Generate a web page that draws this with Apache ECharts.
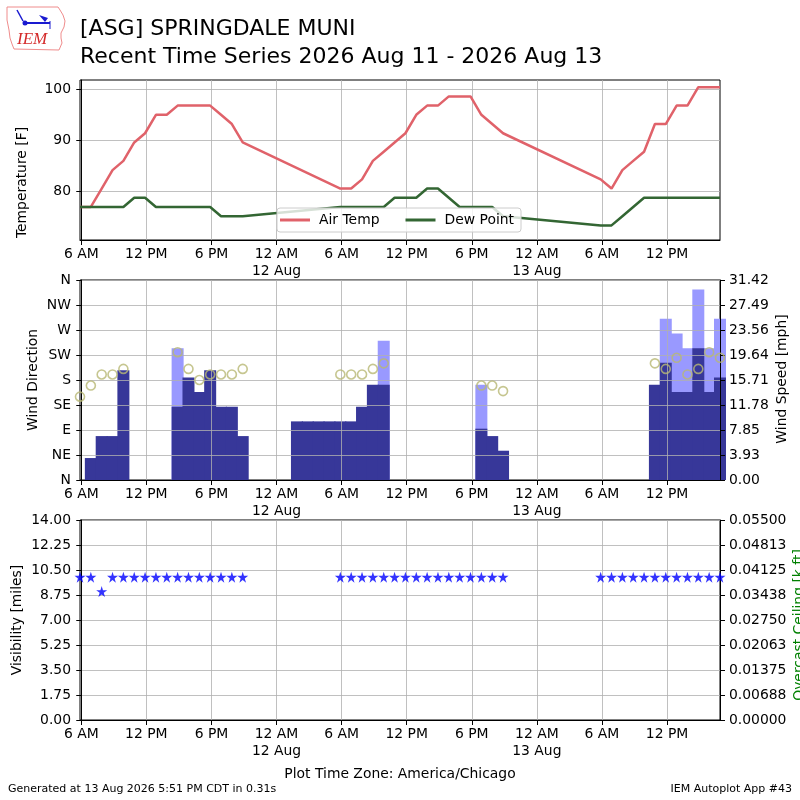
<!DOCTYPE html>
<html>
<head>
<meta charset="utf-8">
<title>ASG Recent Time Series</title>
<script src="https://cdn.jsdelivr.net/npm/echarts@6.0.0/dist/echarts.min.js"></script>
<style>
  html, body { margin: 0; padding: 0; background: #fff; }
  #chart { width: 800px; height: 800px; }
</style>
</head>
<body>
<div id="chart"></div>
<script>
// hourly obs, local time (America/Chicago)
var obsTime = [
  '2026-08-11 05:53', '2026-08-11 06:53', '2026-08-11 07:53', '2026-08-11 08:53', '2026-08-11 09:53',
  '2026-08-11 10:53', '2026-08-11 11:53', '2026-08-11 12:53', '2026-08-11 13:53', '2026-08-11 14:53',
  '2026-08-11 15:53', '2026-08-11 16:53', '2026-08-11 17:53', '2026-08-11 18:53', '2026-08-11 19:53',
  '2026-08-11 20:53', '2026-08-11 21:53', '2026-08-11 22:53', '2026-08-11 23:53',
  '2026-08-12 00:53', '2026-08-12 01:53', '2026-08-12 02:53', '2026-08-12 03:53', '2026-08-12 04:53',
  '2026-08-12 05:53', '2026-08-12 06:53', '2026-08-12 07:53', '2026-08-12 08:53', '2026-08-12 09:53',
  '2026-08-12 10:53', '2026-08-12 11:53', '2026-08-12 12:53', '2026-08-12 13:53', '2026-08-12 14:53',
  '2026-08-12 15:53', '2026-08-12 16:53', '2026-08-12 17:53', '2026-08-12 18:53', '2026-08-12 19:53',
  '2026-08-12 20:53', '2026-08-12 21:53', '2026-08-12 22:53', '2026-08-12 23:53',
  '2026-08-13 00:53', '2026-08-13 01:53', '2026-08-13 02:53', '2026-08-13 03:53', '2026-08-13 04:53',
  '2026-08-13 05:53', '2026-08-13 06:53', '2026-08-13 07:53', '2026-08-13 08:53', '2026-08-13 09:53',
  '2026-08-13 10:53', '2026-08-13 11:53', '2026-08-13 12:53', '2026-08-13 13:53', '2026-08-13 14:53',
  '2026-08-13 15:53', '2026-08-13 16:53'
]

var tempF = [
  77, 77, 80.6, 84.2, 86, 89.6, 91.4, 95, 95, 96.8, 96.8, 96.8, 96.8, 95, 93.2, 89.6,
  null, null, null, null, null, null, null, null,
  80.6, 80.6, 82.4, 86, 87.8, 89.6, 91.4, 95, 96.8, 96.8, 98.6, 98.6, 98.6, 95, 93.2, 91.4,
  null, null, null, null, null, null, null, null,
  82.4, 80.6, 84.2, 86, 87.8, 93.2, 93.2, 96.8, 96.8, 100.4, 100.4, 100.4
]

var dewF = [
  77, 77, 77, 77, 77, 78.8, 78.8, 77, 77, 77, 77, 77, 77, 75.2, 75.2, 75.2,
  null, null, null, null, null, null, null, null,
  77, 77, 77, 77, 77, 78.8, 78.8, 78.8, 80.6, 80.6, 78.8, 77, 77, 77, 77, 75.2,
  null, null, null, null, null, null, null, null,
  73.4, 73.4, 75.2, 77, 78.8, 78.8, 78.8, 78.8, 78.8, 78.8, 78.8, 78.8
]

// mph
var windSpeed = [
  null, 3.45, 6.9, 6.9, 17.26, null, null, null, null, 11.51, 16.11, 13.81, 17.26, 11.51, 11.51, 6.9,
  null, null, null, null, 9.21, 9.21, 9.21, 9.21,
  9.21, 9.21, 11.51, 14.96, 14.96, null, null, null, null, null, null, null, null, 8.06, 6.9, 4.6,
  null, null, null, null, null, null, null, null,
  null, null, null, null, null, 14.96, 18.41, 13.81, 13.81, 20.71, 13.81, 16.11
]

var windGust = [
  null, null, null, null, null, null, null, null, null, 20.71, null, null, null, null, null, null,
  null, null, null, null, null, null, null, null,
  null, null, null, null, 21.86, null, null, null, null, null, null, null, null, 14.96, null, null,
  null, null, null, null, null, null, null, null,
  null, null, null, null, null, null, 25.32, 23.02, 20.71, 29.92, 20.71, 25.32
]

var windDir = [
  150, 170, 190, 190, 200, null, null, null, null, 230, 200, 180, 190, 190, 190, 200,
  null, null, null, null, null, null, null, null,
  190, 190, 190, 200, 210, null, null, null, null, null, null, null, null, 170, 170, 160,
  null, null, null, null, null, null, null, null,
  null, null, null, null, null, 210, 200, 220, 190, 200, 230, 220
]

var visibility = [
  10, 10, 9, 10, 10, 10, 10, 10, 10, 10, 10, 10, 10, 10, 10, 10,
  null, null, null, null, null, null, null, null,
  10, 10, 10, 10, 10, 10, 10, 10, 10, 10, 10, 10, 10, 10, 10, 10,
  null, null, null, null, null, null, null, null,
  10, 10, 10, 10, 10, 10, 10, 10, 10, 10, 10, 10
]

// x axis: hours after 2026-08-11 06:00
var xTickHours = [0, 6, 12, 18, 24, 30, 36, 42, 48, 54]
var xTickLabels = ['6 AM', '12 PM', '6 PM', '12 AM\n12 Aug', '6 AM', '12 PM', '6 PM', '12 AM\n13 Aug', '6 AM', '12 PM']
var dirLabels = ['N', 'NE', 'E', 'SE', 'S', 'SW', 'W', 'NW', 'N']
var speedLabels = ['0.00', '3.93', '7.85', '11.78', '15.71', '19.64', '23.56', '27.49', '31.42']
var ceilLabels = ['0.00000', '0.00688', '0.01375', '0.02063', '0.02750', '0.03438', '0.04125', '0.04813', '0.05500']

var FONT = 'DejaVu Sans'
var GRID_COLOR = '#b0b0b0'
var GUST_COLOR = '#9999ff'
var SPEED_COLOR = '#373799'

function hoursOf (s) {
  var m = s.match(/(\d+)-(\d+)-(\d+) (\d+):(\d+)/)
  var t = Date.UTC(+m[1], +m[2] - 1, +m[3], +m[4], +m[5])
  return (t - Date.UTC(2026, 7, 11, 6, 0)) / 3600000
}

var obsHours = obsTime.map(hoursOf)

function pairs (values) {
  var out = []
  values.forEach(function (v, i) {
    if (v !== null) out.push([obsHours[i], v])
  })
  return out
}

var xMin = obsHours[0]
var xMax = obsHours[obsHours.length - 1]

function xAxisFor (idx, z) {
  return {
    type: 'value', gridIndex: idx, min: xMin, max: xMax, z: z,
    axisLine: { lineStyle: { color: '#000', width: 1 } },
    axisTick: { customValues: xTickHours, length: 5, lineStyle: { color: '#000' } },
    axisLabel: {
      customValues: xTickHours, color: '#000', fontSize: 13.9, fontFamily: FONT,
      margin: 6, lineHeight: 17,
      formatter: function (v) { return xTickLabels[xTickHours.indexOf(v)] }
    },
    splitLine: { show: true, lineStyle: { color: GRID_COLOR, width: 0.8 } }
  }
}

function yLabel (fmt, margin) {
  return { color: '#000', fontSize: 13.9, fontFamily: FONT, margin: margin, formatter: fmt }
}

var yAxisLine = { show: true, lineStyle: { color: '#000', width: 1 } }
var yTick = { show: true, length: 5, lineStyle: { color: '#000' } }
var ySplit = { show: true, lineStyle: { color: GRID_COLOR, width: 0.8 } }

function axisName (text, x, y, color) {
  return {
    type: 'text', x: x, y: y, rotation: Math.PI / 2, z: 100,
    style: {
      text: text, fill: color || '#000', fontSize: 13.9, fontFamily: FONT,
      align: 'center', verticalAlign: 'middle', textAlign: 'center', textVerticalAlign: 'middle'
    }
  }
}

var starPath = 'path://M50,0 L61,35 L98,35 L68,57 L79,91 L50,70 L21,91 L32,57 L2,35 L39,35 Z'

var chart = echarts.init(document.getElementById('chart'), null, { renderer: 'canvas' })

chart.setOption({
  animation: false,
  backgroundColor: '#fff',
  title: [
    { text: '[ASG] SPRINGDALE MUNI', left: 80, top: 18, padding: 0,
      textStyle: { fontSize: 22, fontWeight: 'normal', color: '#000', fontFamily: FONT } },
    { text: 'Recent Time Series 2026 Aug 11 - 2026 Aug 13', left: 80, top: 46, padding: 0,
      textStyle: { fontSize: 22, fontWeight: 'normal', color: '#000', fontFamily: FONT } }
  ],
  legend: {
    data: ['Air Temp', 'Dew Point'],
    left: 277, top: 208, icon: 'rect', itemWidth: 30, itemHeight: 3, itemGap: 26,
    padding: [5, 7, 5, 3],
    backgroundColor: 'rgba(255,255,255,0.8)', borderColor: '#cccccc', borderWidth: 1, borderRadius: 3,
    textStyle: { color: '#000', fontSize: 13.9, fontFamily: FONT, padding: [0, 0, 0, 4] }
  },
  grid: [
    { left: 80, width: 640, top: 80, height: 160, show: true, borderColor: '#000', borderWidth: 1 },
    { left: 80, width: 640, top: 280, height: 200, show: true, borderColor: '#000', borderWidth: 1 },
    { left: 80, width: 640, top: 520, height: 200, show: true, borderColor: '#000', borderWidth: 1 }
  ],
  xAxis: [xAxisFor(0, 0), xAxisFor(1, 3), xAxisFor(2, 0)],
  yAxis: [
    { type: 'value', gridIndex: 0, min: 70.55, max: 101.8,
      axisLine: yAxisLine, axisTick: { show: true, length: 5, lineStyle: { color: '#000' }, customValues: [80, 90, 100] },
      axisLabel: { color: '#000', fontSize: 13.9, fontFamily: FONT, margin: 9, customValues: [80, 90, 100] },
      splitLine: ySplit },
    { type: 'value', gridIndex: 1, min: 0, max: 360, interval: 45, z: 3,
      axisLine: yAxisLine, axisTick: yTick, splitLine: ySplit,
      axisLabel: yLabel(function (v) { return dirLabels[Math.round(v / 45)] }, 9) },
    { type: 'value', gridIndex: 1, position: 'right', min: 0, max: 31.42, interval: 31.42 / 8, z: 3,
      axisLine: yAxisLine, axisTick: yTick, splitLine: { show: false },
      axisLabel: yLabel(function (v) { return speedLabels[Math.round(v / (31.42 / 8))] }, 9) },
    { type: 'value', gridIndex: 2, min: 0, max: 14, interval: 1.75,
      axisLine: yAxisLine, axisTick: yTick, splitLine: ySplit,
      axisLabel: yLabel(function (v) { return v.toFixed(2) }, 9) },
    { type: 'value', gridIndex: 2, position: 'right', min: 0, max: 0.055, interval: 0.006875,
      axisLine: yAxisLine, axisTick: yTick, splitLine: { show: false },
      axisLabel: yLabel(function (v) { return ceilLabels[Math.round(v / 0.006875)] }, 9) }
  ],
  series: [
    { name: 'Air Temp', type: 'line', xAxisIndex: 0, yAxisIndex: 0, data: pairs(tempF),
      symbol: 'none', color: '#e0626a', lineStyle: { color: '#e0626a', width: 2.5 }, z: 3 },
    { name: 'Dew Point', type: 'line', xAxisIndex: 0, yAxisIndex: 0, data: pairs(dewF),
      symbol: 'none', color: '#336633', lineStyle: { color: '#336633', width: 2.5 }, z: 3 },
    { name: 'Gust', type: 'bar', xAxisIndex: 1, yAxisIndex: 2, data: pairs(windGust),
      barWidth: 12, barGap: '-100%', z: 1,
      itemStyle: { color: GUST_COLOR } },
    { name: 'Speed', type: 'bar', xAxisIndex: 1, yAxisIndex: 2, data: pairs(windSpeed),
      barWidth: 12, barGap: '-100%', z: 2,
      itemStyle: { color: SPEED_COLOR } },
    { name: 'Direction', type: 'scatter', xAxisIndex: 1, yAxisIndex: 1, data: pairs(windDir),
      symbol: 'circle', symbolSize: 9, z: 6,
      itemStyle: { color: 'rgba(0,0,0,0)', borderColor: '#b8b874', borderWidth: 1.6 } },
    { name: 'Visibility', type: 'scatter', xAxisIndex: 2, yAxisIndex: 3, data: pairs(visibility),
      symbol: starPath, symbolSize: 11, itemStyle: { color: '#0000ff' }, z: 6 }
  ],
  graphic: [
    // IEM logo
    { type: 'polyline', z: 100,
      shape: { points: [[7, 7], [58, 7], [60, 10], [63, 15], [65, 21], [64, 27], [61, 33], [61, 38], [62, 43],
        [59, 50], [14, 49], [12, 44], [10, 38], [9, 30], [7, 20], [7, 7]] },
      style: { stroke: '#ef8c8c', fill: null, lineWidth: 1 } },
    { type: 'line', z: 100, shape: { x1: 25, y1: 23, x2: 50, y2: 23 }, style: { stroke: '#1a1ad0', lineWidth: 2 } },
    { type: 'line', z: 100, shape: { x1: 17, y1: 10, x2: 23, y2: 21 }, style: { stroke: '#1a1ad0', lineWidth: 1.5 } },
    { type: 'polygon', z: 100, shape: { points: [[39, 15], [48, 18], [45, 22]] }, style: { fill: '#1a1ad0' } },
    { type: 'line', z: 100, shape: { x1: 50, y1: 21, x2: 50, y2: 29 }, style: { stroke: '#1a1ad0', lineWidth: 1 } },
    { type: 'circle', z: 100, shape: { cx: 25, cy: 23, r: 2.5 }, style: { fill: '#1a1ad0' } },
    { type: 'text', x: 17, y: 40, z: 100,
      style: { text: 'IEM', fill: '#d42a2a', fontSize: 17, fontStyle: 'italic', fontFamily: 'Liberation Serif',
        verticalAlign: 'middle', textVerticalAlign: 'middle' } },
    // axis names
    axisName('Temperature [F]', 22.5, 182.5),
    axisName('Wind Direction', 33.5, 380),
    axisName('Visibility [miles]', 17.5, 620),
    axisName('Wind Speed [mph]', 782, 379),
    axisName('Overcast Ceiling [k ft]', 799, 625, '#008000'),
    // footer
    { type: 'text', x: 400, y: 774, z: 100,
      style: { text: 'Plot Time Zone: America/Chicago', fill: '#000', fontSize: 13.9, fontFamily: FONT,
        align: 'center', verticalAlign: 'middle', textAlign: 'center', textVerticalAlign: 'middle' } },
    { type: 'text', x: 8, y: 789, z: 100,
      style: { text: 'Generated at 13 Aug 2026 5:51 PM CDT in 0.31s', fill: '#000', fontSize: 11, fontFamily: FONT,
        verticalAlign: 'middle', textVerticalAlign: 'middle' } },
    { type: 'text', x: 792, y: 789, z: 100,
      style: { text: 'IEM Autoplot App #43', fill: '#000', fontSize: 11, fontFamily: FONT,
        align: 'right', verticalAlign: 'middle', textAlign: 'right', textVerticalAlign: 'middle' } }
  ]
})
</script>
</body>
</html>
